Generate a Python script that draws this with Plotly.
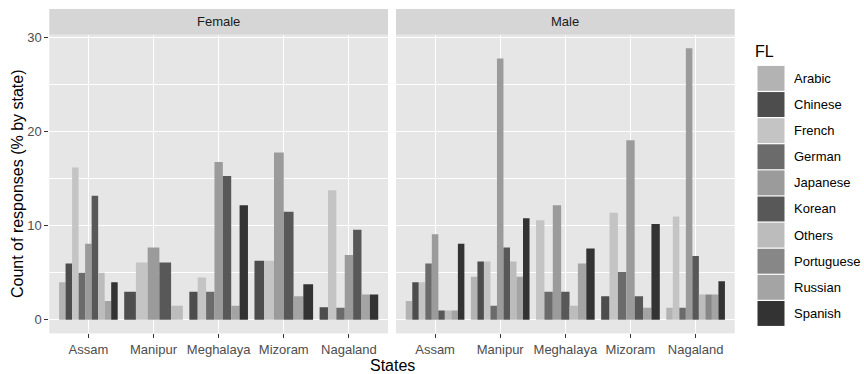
import plotly.graph_objects as go

states = ["Assam", "Manipur", "Meghalaya", "Mizoram", "Nagaland"]
fl_levels = ["Arabic", "Chinese", "French", "German", "Japanese",
             "Korean", "Others", "Portuguese", "Russian", "Spanish"]
fl_colors = ["#b3b3b3", "#4d4d4d", "#c4c4c4", "#6b6b6b", "#9b9b9b",
             "#585858", "#bcbcbc", "#878787", "#a4a4a4", "#333333"]

female = {
    "Arabic":     [4.0, None, None, None, None],
    "Chinese":    [6.0, 3.0, 3.0, 6.3, 1.35],
    "French":     [16.2, 6.1, 4.5, 6.3, 13.8],
    "German":     [5.0, None, 3.0, None, 1.3],
    "Japanese":   [8.1, 7.7, 16.8, 17.8, 6.9],
    "Korean":     [13.2, 6.1, 15.3, 11.5, 9.6],
    "Others":     [5.0, 1.5, None, None, None],
    "Portuguese": [None, None, None, None, None],
    "Russian":    [2.0, None, 1.5, 2.5, 2.7],
    "Spanish":    [4.0, None, 12.2, 3.8, 2.7],
}
male = {
    "Arabic":     [2.0, 4.6, None, None, 1.3],
    "Chinese":    [4.0, 6.2, None, 2.5, None],
    "French":     [4.0, 6.2, 10.6, 11.4, 11.0],
    "German":     [6.0, 1.5, 3.0, 5.1, 1.3],
    "Japanese":   [9.1, 27.8, 12.2, 19.1, 28.9],
    "Korean":     [1.0, 7.7, 3.0, 2.5, 6.8],
    "Others":     [1.0, 6.2, 1.5, None, 2.7],
    "Portuguese": [None, None, None, None, 2.7],
    "Russian":    [1.0, 4.6, 6.0, 1.3, 2.7],
    "Spanish":    [8.1, 10.8, 7.6, 10.2, 4.1],
}
panels = [("Female", female, "x", "y"), ("Male", male, "x2", "y2")]

W, H = 864, 374
FONT = "Liberation Sans, Arial, Helvetica, sans-serif"

fig = go.Figure()

# ggplot-style dodge: bars within each state share 0.9 width among present levels
for pname, data, xa, ya in panels:
    for ci, cat in enumerate(fl_levels):
        xs, ys, ws = [], [], []
        for si, st in enumerate(states):
            present = [c for c in fl_levels if data[c][si] is not None]
            v = data[cat][si]
            if v is None:
                continue
            n = len(present)
            w = 0.9 / n
            k = present.index(cat)
            xs.append(si + 1 - 0.45 + w * (k + 0.5))
            ys.append(v)
            ws.append(w)
        if xs:
            fig.add_trace(go.Bar(x=xs, y=ys, width=ws, xaxis=xa, yaxis=ya,
                                 marker=dict(color=fl_colors[ci], line=dict(width=0)),
                                 name=cat, showlegend=False))

def px(x):
    return x / W

def py(y):
    return 1 - y / H

panel_top, panel_bot = 31, 333
f_left, f_right = 49.3, 388.0
m_left, m_right = 396.0, 734.7
yr = [-1.445, 30.345]

xcommon = dict(range=[0.4, 5.6], tickvals=list(range(1, 6)), ticktext=states,
               showgrid=True, gridcolor="white", gridwidth=1.2, zeroline=False,
               ticks="outside", ticklen=4, tickcolor="#333333", tickwidth=1,
               tickfont=dict(family=FONT, size=13, color="#4d4d4d"),
               showline=False, fixedrange=True)
ycommon = dict(range=yr, tickvals=[0, 10, 20, 30], showgrid=True, gridcolor="white",
               gridwidth=1.2, zeroline=False,
               minor=dict(tickvals=[5, 15, 25], showgrid=True, gridcolor="white",
                          gridwidth=0.6, ticklen=0),
               domain=[py(panel_bot), py(panel_top)], fixedrange=True)

fig.update_layout(
    width=W, height=H, margin=dict(l=0, r=0, t=0, b=0),
    paper_bgcolor="white", plot_bgcolor="#e6e6e6",
    barmode="overlay", showlegend=False,
    font=dict(family=FONT),
    xaxis=dict(domain=[px(f_left), px(f_right)], anchor="y", **xcommon),
    xaxis2=dict(domain=[px(m_left), px(m_right)], anchor="y2", **xcommon),
    yaxis=dict(anchor="x", ticks="outside", ticklen=4, tickcolor="#333333",
               tickfont=dict(family=FONT, size=13, color="#4d4d4d"), **ycommon),
    yaxis2=dict(anchor="x2", showticklabels=False, ticks="", **ycommon),
)

shapes = []
annotations = []
# facet strips
for (pname, _, _, _), (l, r) in zip(panels, [(f_left, f_right), (m_left, m_right)]):
    shapes.append(dict(type="rect", xref="paper", yref="paper",
                       x0=px(l), x1=px(r), y0=py(panel_top), y1=py(5),
                       fillcolor="#d6d6d6", line=dict(width=0), layer="below"))
    annotations.append(dict(text=pname, xref="paper", yref="paper",
                            x=px((l + r) / 2), y=py(18), showarrow=False,
                            xanchor="center", yanchor="middle",
                            font=dict(family=FONT, size=13, color="#1a1a1a")))

# axis titles
annotations.append(dict(text="States", xref="paper", yref="paper",
                        x=px((f_left + m_right) / 2), y=py(365), showarrow=False,
                        xanchor="center", yanchor="middle",
                        font=dict(family=FONT, size=16, color="black")))
annotations.append(dict(text="Count of responses (% by state)", xref="paper", yref="paper",
                        x=px(17), y=py((panel_top + panel_bot) / 2), showarrow=False,
                        textangle=-90, xanchor="center", yanchor="middle",
                        font=dict(family=FONT, size=16, color="black")))

# legend (ggplot-style keys)
annotations.append(dict(text="FL", xref="paper", yref="paper", x=px(753), y=py(48),
                        showarrow=False, xanchor="left", yanchor="middle",
                        font=dict(family=FONT, size=16, color="black")))
key_top, key_pitch = 62, 26.4
for i, (cat, col) in enumerate(zip(fl_levels, fl_colors)):
    y0 = key_top + i * key_pitch
    shapes.append(dict(type="rect", xref="paper", yref="paper",
                       x0=px(757.5), x1=px(784.5), y0=py(y0 + key_pitch - 0.6), y1=py(y0 + 0.6),
                       fillcolor=col, line=dict(width=0)))
    annotations.append(dict(text=cat, xref="paper", yref="paper",
                            x=px(792), y=py(y0 + key_pitch / 2), showarrow=False,
                            xanchor="left", yanchor="middle",
                            font=dict(family=FONT, size=13, color="black")))

fig.update_layout(shapes=shapes, annotations=annotations)
fig.write_html("out.html", post_script="document.body.style.margin='0';",
               config={"displayModeBar": False})
